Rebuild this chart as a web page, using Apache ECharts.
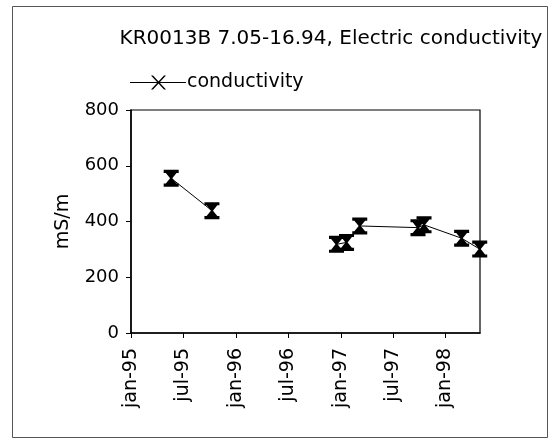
<!DOCTYPE html>
<html>
<head>
<meta charset="utf-8">
<script src="https://cdn.jsdelivr.net/npm/echarts@6/dist/echarts.min.js"></script>
<style>
html,body{margin:0;padding:0;background:#fff;}
#chart{width:557px;height:443px;}
</style>
</head>
<body>
<div id="chart"></div>
<script>
// Data
var sampleDates = ['1995-05-21','1995-10-10',null,'1996-12-17','1997-01-21','1997-03-08','1997-09-27','1997-10-18','1998-02-26','1998-04-30'];
var conductivity = [555, 439, null, 318, 325, 384, 378, 388, 340, 301];
var xTickDates = ['1995-01-01','1995-07-01','1996-01-01','1996-07-01','1997-01-01','1997-07-01','1998-01-01'];
var monthNames = ['jan','feb','mar','apr','may','jun','jul','aug','sep','oct','nov','dec'];
var yTicks = [0, 200, 400, 600, 800];
var xMinDate = '1995-01-01';
var xMaxDate = '1998-05-01';

function ts(s){ var p = s.split('-'); return Date.UTC(+p[0], +p[1]-1, +p[2]); }

// a null value between the 1995 and 1997 campaigns breaks the line
var seriesData = sampleDates.map(function(d, i){
  if (d === null) return [(ts(sampleDates[i-1]) + ts(sampleDates[i+1])) / 2, null];
  return [ts(d), conductivity[i]];
});

var FONT = 'DejaVu Sans';
var chart = echarts.init(document.getElementById('chart'));
var hourglass = 'path://M0,0 L14,0 L14,3 L12,3 L8,8 L12,13 L14,13 L14,16 L0,16 L0,13 L2,13 L6,8 L2,3 L0,3 Z';
var legendIcon = 'path://M0,6.5 L56,6.5 L56,7.5 L0,7.5 Z M21,0 L23,0 L36,14 L34,14 Z M34,0 L36,0 L23,14 L21,14 Z';

chart.setOption({
  animation: false,
  backgroundColor: '#fff',
  title: {
    text: 'KR0013B 7.05-16.94, Electric conductivity',
    left: 326, top: 24, textAlign: 'center',
    textStyle: {fontFamily: FONT, fontSize: 20, fontWeight: 'normal', color: '#000'}
  },
  legend: {
    left: 125, top: 68,
    itemWidth: 58, itemHeight: 14, itemGap: 10,
    data: [{name: 'conductivity', icon: legendIcon}],
    textStyle: {fontFamily: FONT, fontSize: 19, color: '#000', padding: [0,0,0,-5]}
  },
  grid: {left: 131, right: 77, top: 110, bottom: 110, show: true, borderColor: '#000', borderWidth: 1.2, containLabel: false},
  xAxis: {
    type: 'value',
    min: ts(xMinDate), max: ts(xMaxDate),
    splitLine: {show: false},
    axisLine: {show: true, lineStyle: {color: '#000', width: 1.5}},
    axisTick: {show: true, length: 5, inside: false, customValues: xTickDates.map(ts), lineStyle: {color: '#000'}},
    axisLabel: {
      customValues: xTickDates.map(ts),
      rotate: 90, margin: 15,
      fontFamily: FONT, fontSize: 19, color: '#000',
      formatter: function(v){
        var d = new Date(v);
        var yy = String(d.getUTCFullYear()).slice(2);
        return monthNames[d.getUTCMonth()] + '-' + yy;
      }
    }
  },
  yAxis: {
    type: 'value', min: yTicks[0], max: yTicks[yTicks.length-1], interval: 200,
    name: 'mS/m', nameLocation: 'middle', nameGap: 58, nameRotate: 90,
    nameTextStyle: {fontFamily: FONT, fontSize: 19, color: '#000'},
    splitLine: {show: false},
    axisLine: {show: true, lineStyle: {color: '#000', width: 1.5}},
    axisTick: {show: true, length: 5, lineStyle: {color: '#000'}},
    axisLabel: {margin: 12, fontFamily: FONT, fontSize: 18, color: '#000'}
  },
  series: [{
    name: 'conductivity',
    type: 'line',
    data: seriesData,
    connectNulls: false,
    symbol: hourglass,
    symbolSize: [15, 17],
    showAllSymbol: true,
    clip: false,
    lineStyle: {color: '#000', width: 1},
    itemStyle: {color: '#000'}
  }],
  graphic: [{
    type: 'rect', silent: true, z: -1,
    shape: {x: 12.5, y: 6.5, width: 535, height: 431},
    style: {fill: 'none', stroke: '#555', lineWidth: 1}
  }]
});
</script>
</body>
</html>
